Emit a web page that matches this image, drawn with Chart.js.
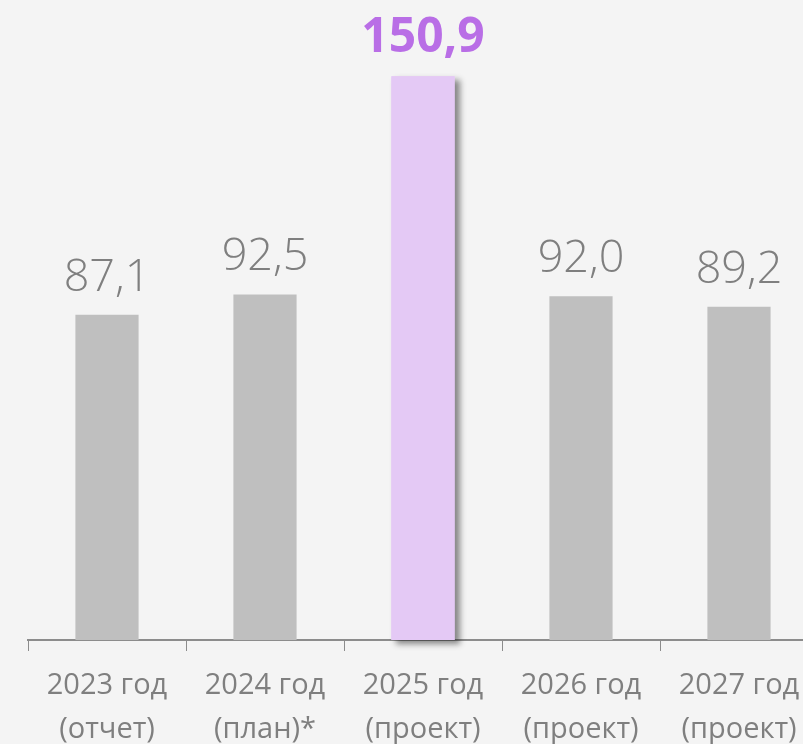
<!DOCTYPE html>
<html>
<head>
<meta charset="utf-8">
<script src="https://cdn.jsdelivr.net/npm/chart.js@4/dist/chart.umd.min.js"></script>
<style>
  html, body { margin: 0; padding: 0; background: #f4f4f4; overflow: hidden; }
  .chart-wrap { position: relative; width: 818px; height: 764px; }
</style>
</head>
<body>
<div class="chart-wrap"><canvas id="budgetChart"></canvas></div>
<script>
// Chart data
const categories = [
  ["2023 год", "(отчет)"],
  ["2024 год", "(план)*"],
  ["2025 год", "(проект)"],
  ["2026 год", "(проект)"],
  ["2027 год", "(проект)"],
];
const values = [87.1, 92.5, 150.9, 92.0, 89.2];
const valueLabels = ["87,1", "92,5", "150,9", "92,0", "89,2"];
const highlightIndex = 2;

// Colors
const barGray = "#bfbfbf";
const barPurple = "#e4c9f5";
const textGray = "#7f7f7f";
const textPurple = "#b96ee6";
const axisGray = "#8c8c8c";

// Shadow behind the highlighted bar
const shadowPlugin = {
  id: "barShadow",
  beforeDatasetsDraw(chart) {
    const bar = chart.getDatasetMeta(0).data[highlightIndex];
    const p = bar.getProps(["x", "y", "base", "width"], true);
    const ctx = chart.ctx;
    ctx.save();
    ctx.shadowColor = "rgba(0,0,0,0.45)";
    ctx.shadowBlur = 6;
    ctx.shadowOffsetX = 5;
    ctx.shadowOffsetY = 4;
    ctx.fillStyle = barPurple;
    ctx.fillRect(p.x - p.width / 2, p.y, p.width, p.base - p.y);
    ctx.restore();
  },
};

// Value labels above bars
const valueLabelPlugin = {
  id: "valueLabels",
  afterDatasetsDraw(chart) {
    const ctx = chart.ctx;
    const meta = chart.getDatasetMeta(0);
    ctx.save();
    ctx.textAlign = "center";
    ctx.textBaseline = "alphabetic";
    meta.data.forEach(function (bar, i) {
      if (i === highlightIndex) {
        ctx.fillStyle = textPurple;
        ctx.font = "bold 48px 'Open Sans'";
      } else {
        ctx.fillStyle = textGray;
        ctx.font = "300 45px 'Open Sans'";
      }
      ctx.fillText(valueLabels[i], bar.x, bar.y - 24);
    });
    ctx.restore();
  },
};

const ctx = document.getElementById("budgetChart").getContext("2d");
new Chart(ctx, {
  type: "bar",
  data: {
    labels: categories,
    datasets: [
      {
        data: values,
        backgroundColor: values.map(function (v, i) {
          return i === highlightIndex ? barPurple : barGray;
        }),
        barPercentage: 0.8,
        categoryPercentage: 0.5,
      },
    ],
  },
  options: {
    responsive: true,
    maintainAspectRatio: false,
    animation: false,
    layout: { padding: { left: 28, right: 0, top: 5, bottom: 0 } },
    plugins: {
      legend: { display: false },
      tooltip: { enabled: false },
    },
    scales: {
      x: {
        grid: {
          offset: true,
          drawOnChartArea: false,
          drawTicks: true,
          tickLength: 11,
          color: axisGray,
          lineWidth: 1,
        },
        border: { color: axisGray, width: 2 },
        ticks: {
          color: textGray,
          font: { family: "'Open Sans'", size: 29, lineHeight: 1.5 },
          padding: 13,
          maxRotation: 0,
          autoSkip: false,
        },
      },
      y: {
        display: false,
        min: 0,
        max: 170,
      },
    },
  },
  plugins: [shadowPlugin, valueLabelPlugin],
});
</script>
</body>
</html>
